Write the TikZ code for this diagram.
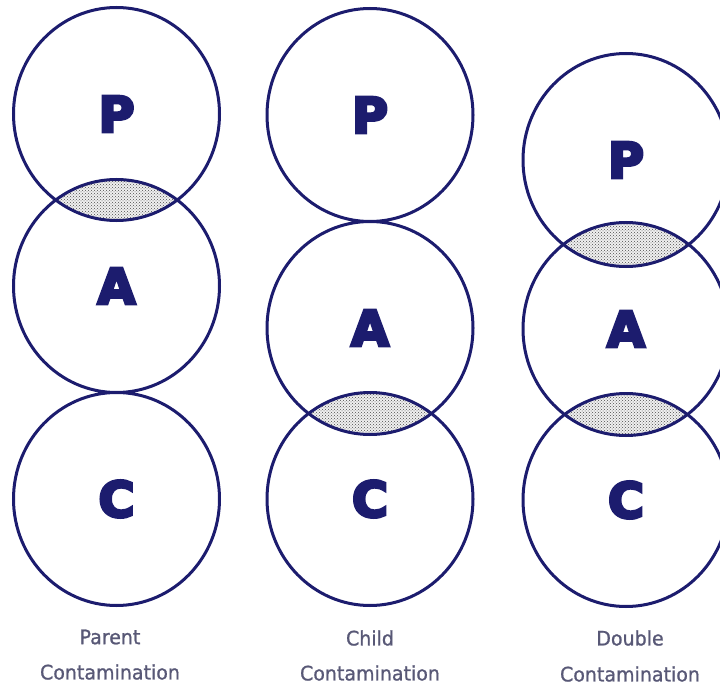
\documentclass[tikz,border=0pt]{standalone}
\usepackage{xcolor}
\usepackage{fontspec}
\usepackage{tikz}
\usetikzlibrary{patterns}
\newfontfamily\letterfont{DejaVu Sans}[UprightFont = {* Bold}, UprightFeatures = {FakeBold = 6}]
\newfontfamily\captionfont{DejaVu Sans}[FakeBold = 1]
\definecolor{navy}{RGB}{28,28,110}
\definecolor{captiongray}{RGB}{88,88,118}

\begin{document}
\begin{tikzpicture}[x=1pt,y=-1pt]
		\tikzstyle{every node} = [inner sep = 0pt]
		\tikzstyle{letter} = [font = \letterfont\fontsize{49}{49}\selectfont, text = navy]
		\tikzstyle{caption} = [font = \captionfont\fontsize{20}{20}\selectfont, text = captiongray, xscale = 0.95]
		\tikzstyle{oval} = [x radius = 103pt, y radius = 106.5pt]
		\tikzstyle{ring} = [draw = navy, line width = 3pt]
		\tikzstyle{lens} = [fill = gray!12, postaction = {pattern = crosshatch dots, pattern color = gray!60!black}]
			\useasboundingbox (0,0) rectangle (720,687);
			\clip (0,0) rectangle (720,687);
			% parent contamination
			\node[letter] (P1) at (116.5,114) {P};
			\node[letter] (A1) at (116.5,286) {A};
			\node[letter] (C1) at (116.5,499) {C};
			\node[caption] (parent) at (110,637) {Parent};
			\node[caption] (cont1) at (110,672) {Contamination};
			% child contamination
			\node[letter] (P2) at (370,115) {P};
			\node[letter] (A2) at (370,328) {A};
			\node[letter] (C2) at (370,499) {C};
			\node[caption] (child) at (370,638) {Child};
			\node[caption] (cont2) at (370,673) {Contamination};
			% double contamination
			\node[letter] (P3) at (626,160) {P};
			\node[letter] (A3) at (626,329) {A};
			\node[letter] (C3) at (626,500) {C};
			\node[caption] (double) at (630,638) {Double};
			\node[caption] (cont3) at (630,674) {Contamination};
			% shaded overlaps
			\begin{scope}
				\clip (P1.center) ellipse [oval];
				\path[lens] (A1.center) ellipse [oval];
			\end{scope}
			\begin{scope}
				\clip (A2.center) ellipse [oval];
				\path[lens] (C2.center) ellipse [oval];
			\end{scope}
			\begin{scope}
				\clip (P3.center) ellipse [oval];
				\path[lens] (A3.center) ellipse [oval];
			\end{scope}
			\begin{scope}
				\clip (A3.center) ellipse [oval];
				\path[lens] (C3.center) ellipse [oval];
			\end{scope}
			% circles
			\path[ring] (P1.center) ellipse [oval] (A1.center) ellipse [oval] (C1.center) ellipse [oval];
			\path[ring] (P2.center) ellipse [oval] (A2.center) ellipse [oval] (C2.center) ellipse [oval];
			\path[ring] (P3.center) ellipse [oval] (A3.center) ellipse [oval] (C3.center) ellipse [oval];
		\end{tikzpicture}
\end{document}
